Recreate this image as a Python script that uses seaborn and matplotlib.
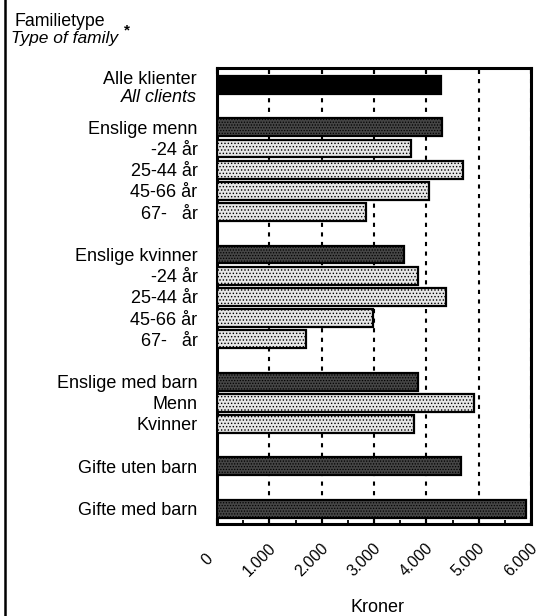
import matplotlib
matplotlib.use("Agg")
import matplotlib.pyplot as plt
import matplotlib.transforms as mtransforms
from matplotlib.lines import Line2D
from matplotlib.ticker import MultipleLocator, FixedLocator
import seaborn as sns
import numpy as np

# ---- data ----
group_labels = [
    ["Alle klienter"],
    ["Enslige menn", "-24 år", "25-44 år", "45-66 år", "67-   år"],
    ["Enslige kvinner", "-24 år", "25-44 år", "45-66 år", "67-   år"],
    ["Enslige med barn", "Menn", "Kvinner"],
    ["Gifte uten barn"],
    ["Gifte med barn"],
]
group_values = [
    [4280],
    [4300, 3700, 4700, 4050, 2850],
    [3580, 3850, 4370, 2990, 1700],
    [3850, 4910, 3760],
    [4660],
    [5910],
]
x_ticks = [0, 1000, 2000, 3000, 4000, 5000, 6000]
x_ticklabels = ["0", "1.000", "2.000", "3.000", "4.000", "5.000", "6.000"]
title_no = "Familietype"
title_en = "Type of family"
all_clients_en = "All clients"
x_title = "Kroner"

# ---- derived layout ----
labels, values, positions, kinds = [], [], [], []
slot = 0
for gi, (gl, gv) in enumerate(zip(group_labels, group_values)):
    for j, (l, v) in enumerate(zip(gl, gv)):
        labels.append(l)
        values.append(v)
        positions.append(slot)
        if gi == 0:
            kinds.append("all")
        elif j == 0:
            kinds.append("head")
        else:
            kinds.append("sub")
        slot += 1
    slot += 1

plt.rcParams["font.family"] = ["Liberation Sans", "DejaVu Sans"]
plt.rcParams["hatch.linewidth"] = 0.6

fig = plt.figure(figsize=(5.44, 6.16), dpi=100)
ax = fig.add_axes([217 / 544, 1 - 524 / 616, (531 - 217) / 544, (524 - 68) / 616])

sns.barplot(x=values, y=positions, orient="h", native_scale=True, width=0.84,
            color="#333333", edgecolor="black", linewidth=1.6, ax=ax, zorder=3)

face = {"all": "#000000", "head": "#454545", "sub": "#e6e6e6"}
hatch = {"all": None, "head": "......", "sub": "....."}
bars = sorted(ax.patches, key=lambda p: p.get_y())
for p, k in zip(bars, kinds):
    p.set_facecolor(face[k])
    if hatch[k]:
        p.set_hatch(hatch[k])

ax.set_xlim(0, 6000)
ax.set_ylim(20.72, -0.8)

# grid: dashed vertical lines
ax.set_axisbelow(True)
ax.xaxis.set_major_locator(FixedLocator(x_ticks))
ax.xaxis.set_minor_locator(MultipleLocator(500))
ax.grid(axis="x", which="major", color="black", linewidth=1.5,
        linestyle=(0, (2.0, 2.6)), zorder=0)
ax.grid(axis="y", visible=False)

ax.tick_params(axis="x", which="major", direction="in", length=4, width=1.5,
               top=True, bottom=True, labelbottom=False)
ax.tick_params(axis="x", which="minor", direction="in", length=3, width=1.3,
               top=False, bottom=True)

# rotated x tick labels drawn as texts at the tick positions
xtrans = mtransforms.blended_transform_factory(ax.transData, ax.transAxes) + \
    mtransforms.ScaledTranslation(-10 / 100, 0, fig.dpi_scale_trans)
for v, lab in zip(x_ticks, x_ticklabels):
    ax.text(v, -0.078, lab, transform=xtrans, rotation=45, ha="center", va="center",
            fontsize=11.3, clip_on=False)

ax.set_yticks(positions)
ytl = list(labels)
ytl[0] = ""
ax.set_yticklabels(ytl, fontsize=13)
ax.tick_params(axis="y", length=0, pad=14)
ytrans = mtransforms.blended_transform_factory(ax.transAxes, ax.transData)
ax.text(-0.065, positions[0] - 0.28, labels[0], transform=ytrans,
        ha="right", va="center", fontsize=13)
ax.text(-0.065, positions[0] + 0.61, all_clients_en, transform=ytrans,
        ha="right", va="center", fontsize=13, style="italic")

for s in ax.spines.values():
    s.set_visible(True)
    s.set_color("black")
    s.set_linewidth(2.2)

ax.set_xlabel("")
ax.set_ylabel("")
fig.text(377 / 544, 1 - 607 / 616, x_title, fontsize=13, ha="center", va="center")

fig.text(15 / 544, 1 - 22 / 616, title_no, fontsize=12.8, ha="left", va="center")
fig.text(11 / 544, 1 - 39 / 616, title_en, fontsize=12.5, ha="left", va="center", style="italic")
fig.text(127 / 544, 1 - 30 / 616, "*", fontsize=11, ha="center", va="center", fontweight="bold")

fig.add_artist(Line2D([4.5 / 544, 4.5 / 544], [0, 1], color="black", linewidth=1.8,
                      transform=fig.transFigure))

fig.savefig("out.png", dpi=100, facecolor="white")
